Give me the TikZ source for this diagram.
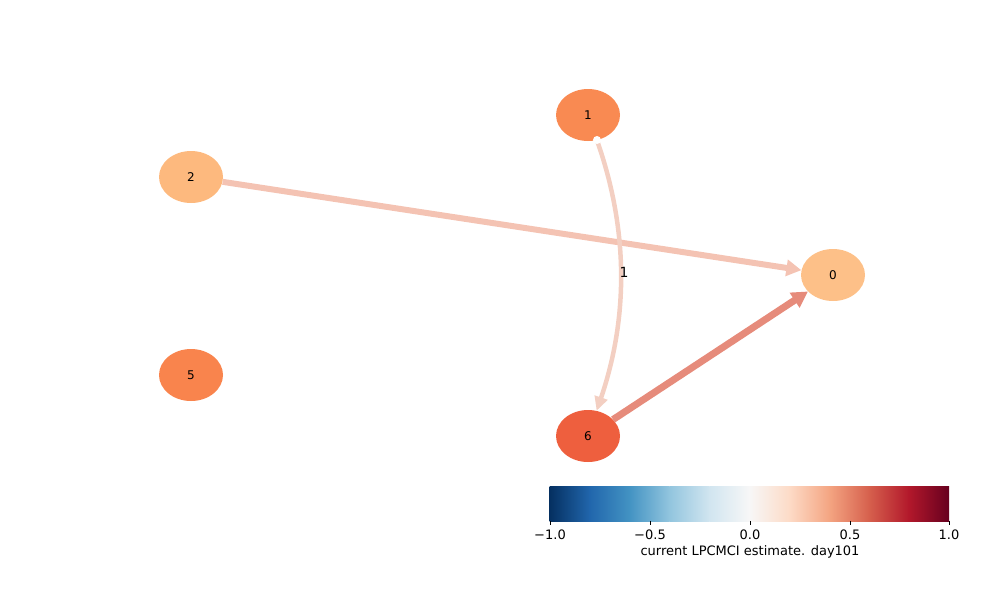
\documentclass[tikz,border=0pt]{standalone}
\usepackage{fontspec}
\setmainfont{DejaVu Sans}
\usetikzlibrary{shapes.geometric,arrows.meta}
\definecolor{cA}{HTML}{053061}
\definecolor{cB}{HTML}{2166AC}
\definecolor{cC}{HTML}{4393C3}
\definecolor{cD}{HTML}{92C5DE}
\definecolor{cE}{HTML}{D1E5F0}
\definecolor{cF}{HTML}{F7F7F7}
\definecolor{cG}{HTML}{FDDBC7}
\definecolor{cH}{HTML}{F4A582}
\definecolor{cI}{HTML}{D6604D}
\definecolor{cJ}{HTML}{B2182B}
\definecolor{cK}{HTML}{67001F}
\definecolor{nodeone}{HTML}{F98A52}
\definecolor{nodetwo}{HTML}{FDB97E}
\definecolor{nodezero}{HTML}{FDC088}
\definecolor{nodefive}{HTML}{F9844D}
\definecolor{nodesix}{HTML}{EE5F3E}
\definecolor{edgetwo}{HTML}{F4C3B3}
\definecolor{edgeone}{HTML}{F3CFC2}
\definecolor{edgesix}{HTML}{E68B7B}
\tikzset{
  vnode/.style={ellipse,minimum width=64pt,minimum height=52pt,inner sep=0pt,font=\fontsize{12}{14}\selectfont},
  link/.style={line width=#1},
  tick/.style={line width=0.8pt},
  ticklab/.style={font=\fontsize{13}{15}\selectfont,anchor=north,inner sep=0pt}
}
\begin{document}
\begin{tikzpicture}[x=1pt,y=-1pt]
\useasboundingbox (0,0) rectangle (1000,600);
% nodes
\node[vnode,fill=nodeone] (n1) at (588,115) {1};
\node[vnode,fill=nodetwo] (n2) at (191,177) {2};
\node[vnode,fill=nodezero] (n0) at (833,275) {0};
\node[vnode,fill=nodefive] (n5) at (191,375) {5};
\node[vnode,fill=nodesix] (n6) at (588,436) {6};
% edges
\coordinate (k1) at (628,228);
\coordinate (k2) at (629,316);
\draw[link=6pt,edgetwo,-{Triangle[width=16pt,length=15pt]}] (n2) -- (n0);
\draw[link=4.5pt,edgeone,-{Triangle[width=13pt,length=14pt]}] (n1) .. controls (k1) and (k2) .. (n6);
\fill[white] (597,140) circle (4pt);
\draw[link=7pt,edgesix,-{Triangle[width=17pt,length=16pt]}] (n6) -- (n0);
\node[font=\fontsize{14}{16}\selectfont] (lab) at (624,272) {1};
% colorbar
\foreach \a/\b [count=\i from 0] in {cA/cB,cB/cC,cC/cD,cD/cE,cE/cF,cF/cG,cG/cH,cH/cI,cI/cJ,cJ/cK}{
  \shade[left color=\a,right color=\b] (550+\i*39.9-0.3,486) rectangle (550+\i*39.9+39.9,521);
}
\foreach \xv/\t in {550/{−1.0},650/{−0.5},750/{0.0},850/{0.5},949/{1.0}}{
  \draw[tick] (\xv,521) -- (\xv,525);
  \node[ticklab] at (\xv,530) {\t};
}
\node[font=\fontsize{13}{15}\selectfont] (cbl) at (750,552) {current LPCMCI estimate. day101};
\end{tikzpicture}
\end{document}
